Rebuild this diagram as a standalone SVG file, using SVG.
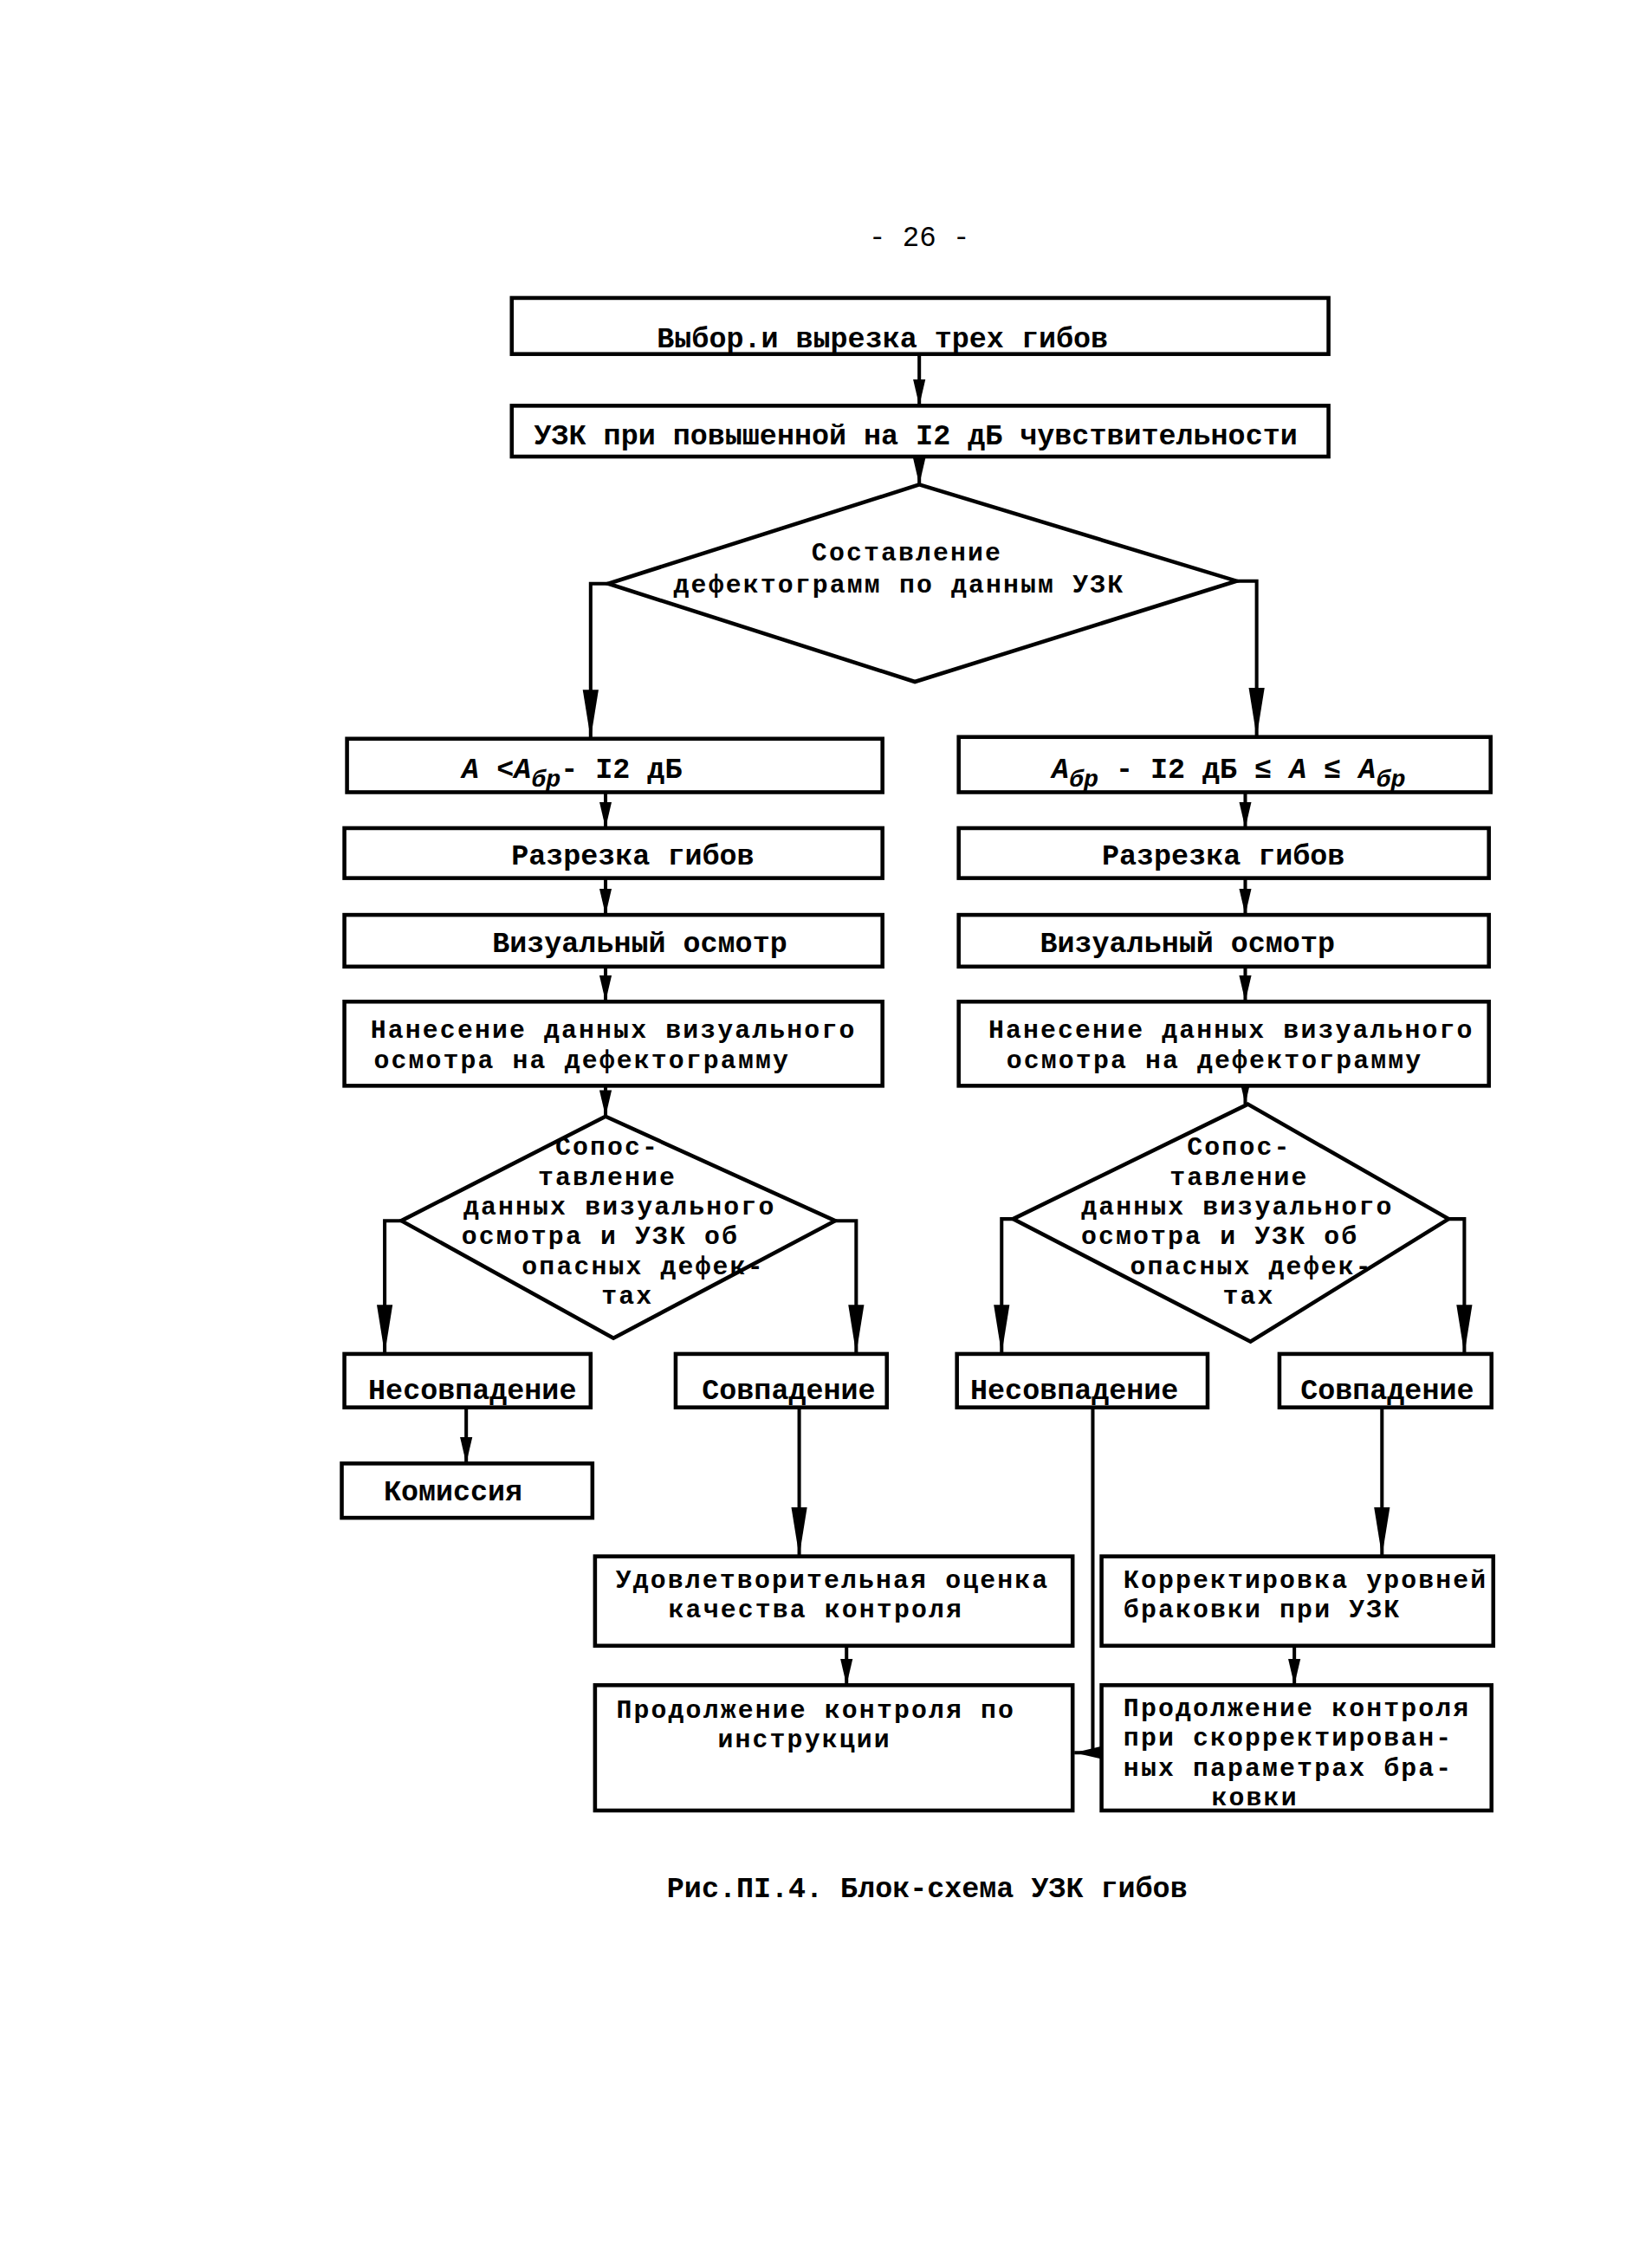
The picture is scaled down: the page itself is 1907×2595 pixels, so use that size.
<svg xmlns="http://www.w3.org/2000/svg" width="1907" height="2595" viewBox="0 0 1907 2595">
<defs>
<style>
.b{fill:#fff;stroke:#000;stroke-width:4.5}
.t{font-family:"Liberation Mono","DejaVu Sans Mono",monospace;font-size:33px;font-weight:bold;fill:#000}
.s{font-size:29.5px;letter-spacing:2.1px}
.m{text-anchor:middle}
.c{fill:none;stroke:#000;stroke-width:4}
.i{font-style:italic}
</style>
<marker id="a" markerUnits="userSpaceOnUse" markerWidth="30" markerHeight="16" refX="30" refY="8" orient="auto"><path d="M0,1 L30,8 L0,15 z" fill="#000"/></marker>
<marker id="A" markerUnits="userSpaceOnUse" markerWidth="56" markerHeight="20" refX="56" refY="10" orient="auto"><path d="M0,1 L56,10 L0,19 z" fill="#000"/></marker>
</defs>
<rect width="1907" height="2595" fill="#fff"/>
<g transform="scale(1.0116)">
<text class="t m" x="1049" y="281" style="font-weight:normal;font-size:32px">- 26 -</text>

<g id="connectors">
<path class="c" d="M1049,404 V463" marker-end="url(#a)"/>
<path class="c" d="M1049,521 V553" marker-end="url(#a)"/>
<path class="c" d="M694,666 H674 V843" marker-end="url(#A)"/>
<path class="c" d="M1411,663 H1434 V841" marker-end="url(#A)"/>
<path class="c" d="M691,904 V945" marker-end="url(#a)"/>
<path class="c" d="M691,1002 V1044" marker-end="url(#a)"/>
<path class="c" d="M691,1103 V1143" marker-end="url(#a)"/>
<path class="c" d="M691,1239 V1274" marker-end="url(#a)"/>
<path class="c" d="M1421,904 V945" marker-end="url(#a)"/>
<path class="c" d="M1421,1002 V1044" marker-end="url(#a)"/>
<path class="c" d="M1421,1103 V1143" marker-end="url(#a)"/>
<path class="c" d="M1421,1239 V1260" marker-end="url(#a)"/>
<path class="c" d="M458,1393 H439 V1545" marker-end="url(#A)"/>
<path class="c" d="M953,1393 H977 V1545" marker-end="url(#A)"/>
<path class="c" d="M1156,1391 H1143 V1545" marker-end="url(#A)"/>
<path class="c" d="M1653,1391 H1671 V1545" marker-end="url(#A)"/>
<path class="c" d="M532,1606 V1670" marker-end="url(#a)"/>
<path class="c" d="M912,1606 V1776" marker-end="url(#A)"/>
<path class="c" d="M966,1878 V1923" marker-end="url(#a)"/>
<path class="c" d="M1247,1606 V2000 H1226" marker-end="url(#a)"/>
<path class="c" d="M1577,1606 V1776" marker-end="url(#A)"/>
<path class="c" d="M1477,1878 V1923" marker-end="url(#a)"/>
</g>

<g id="n1"><rect class="b" x="584" y="340" width="932" height="64"/><text class="t m" x="1007" y="396">Выбор.и вырезка трех гибов</text></g>
<g id="n2"><rect class="b" x="584" y="463" width="932" height="58"/><text class="t m" x="1045" y="507">УЗК при повышенной на I2 дБ чувствительности</text></g>
<g id="d1"><polygon class="b" points="1049,553 1411,663 1044,778 694,666"/>
<text class="t s m" x="1035" y="640">Составление</text>
<text class="t s m" x="1026" y="676">дефектограмм по данным УЗК</text></g>

<g id="n3l"><rect class="b" x="396" y="843" width="611" height="61"/>
<text class="t" x="527" y="888"><tspan class="i">A</tspan> &lt;<tspan class="i">A</tspan><tspan class="i" font-size="28" dy="10">бр</tspan><tspan dy="-10">- I2 дБ</tspan></text></g>
<g id="n3r"><rect class="b" x="1094" y="841" width="607" height="63"/>
<text class="t" x="1200" y="888"><tspan class="i">A</tspan><tspan class="i" font-size="28" dy="10">бр</tspan><tspan dy="-10"> - I2 дБ ≤ </tspan><tspan class="i">A</tspan> ≤ <tspan class="i">A</tspan><tspan class="i" font-size="28" dy="10">бр</tspan></text></g>

<g id="n4l"><rect class="b" x="393" y="945" width="614" height="57"/><text class="t m" x="722" y="987">Разрезка гибов</text></g>
<g id="n4r"><rect class="b" x="1094" y="945" width="605" height="57"/><text class="t m" x="1396" y="987">Разрезка гибов</text></g>
<g id="n5l"><rect class="b" x="393" y="1044" width="614" height="59"/><text class="t m" x="730" y="1086">Визуальный осмотр</text></g>
<g id="n5r"><rect class="b" x="1094" y="1044" width="605" height="59"/><text class="t m" x="1355" y="1086">Визуальный осмотр</text></g>
<g id="n6l"><rect class="b" x="393" y="1143" width="614" height="96"/>
<text class="t s m" x="700" y="1184">Нанесение данных визуального</text>
<text class="t s m" x="664" y="1219">осмотра на дефектограмму</text></g>
<g id="n6r"><rect class="b" x="1094" y="1143" width="605" height="96"/>
<text class="t s m" x="1405" y="1184">Нанесение данных визуального</text>
<text class="t s m" x="1386" y="1219">осмотра на дефектограмму</text></g>

<g id="d2l"><polygon class="b" points="691,1274 953,1393 700,1527 458,1393"/>
<text class="t s m" x="693" y="1318">Сопос-</text>
<text class="t s m" x="693" y="1352">тавление</text>
<text class="t s m" x="707" y="1386">данных визуального</text>
<text class="t s m" x="685" y="1420">осмотра и УЗК об</text>
<text class="t s m" x="734" y="1454">опасных дефек-</text>
<text class="t s m" x="716" y="1488">тах</text></g>
<g id="d2r"><polygon class="b" points="1424,1260 1653,1391 1427,1531 1156,1391"/>
<text class="t s m" x="1414" y="1318">Сопос-</text>
<text class="t s m" x="1414" y="1352">тавление</text>
<text class="t s m" x="1412" y="1386">данных визуального</text>
<text class="t s m" x="1392" y="1420">осмотра и УЗК об</text>
<text class="t s m" x="1428" y="1454">опасных дефек-</text>
<text class="t s m" x="1425" y="1488">тах</text></g>

<g id="n7a"><rect class="b" x="393" y="1545" width="281" height="61"/><text class="t m" x="539" y="1596">Несовпадение</text></g>
<g id="n7b"><rect class="b" x="771" y="1545" width="241" height="61"/><text class="t m" x="900" y="1596">Совпадение</text></g>
<g id="n7c"><rect class="b" x="1092" y="1545" width="286" height="61"/><text class="t m" x="1226" y="1596">Несовпадение</text></g>
<g id="n7d"><rect class="b" x="1460" y="1545" width="242" height="61"/><text class="t m" x="1583" y="1596">Совпадение</text></g>

<g id="n8"><rect class="b" x="390" y="1670" width="286" height="62"/><text class="t m" x="517" y="1712">Комиссия</text></g>

<g id="n9"><rect class="b" x="679" y="1776" width="545" height="102"/>
<text class="t s m" x="950" y="1812">Удовлетворительная оценка</text>
<text class="t s m" x="931" y="1846">качества контроля</text></g>
<g id="n10"><rect class="b" x="679" y="1923" width="545" height="143"/>
<text class="t s m" x="931" y="1960">Продолжение контроля по</text>
<text class="t s m" x="918" y="1994">инструкции</text></g>

<g id="n11"><rect class="b" x="1257" y="1776" width="447" height="102"/>
<text class="t s" x="1282" y="1812">Корректировка уровней</text>
<text class="t s" x="1282" y="1846">браковки при УЗК</text></g>
<g id="n12"><rect class="b" x="1257" y="1923" width="445" height="143"/>
<text class="t s" x="1282" y="1958">Продолжение контроля</text>
<text class="t s" x="1282" y="1992">при скорректирован-</text>
<text class="t s" x="1282" y="2026">ных параметрах бра-</text>
<text class="t s m" x="1432" y="2060">ковки</text></g>

<text class="t m" x="1058" y="2165">Рис.ПI.4. Блок-схема УЗК гибов</text>
</g>
</svg>
